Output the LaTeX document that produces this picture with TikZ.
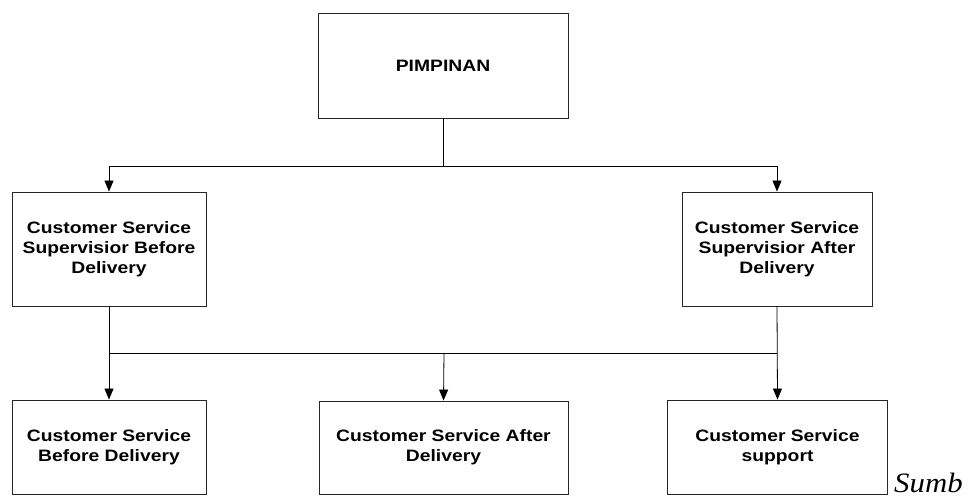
\documentclass[tikz,border=0pt]{standalone}
\usepackage{fontspec}
\setmainfont{Liberation Sans}[FakeStretch=1.17]
\newfontfamily\sumbfont{Liberation Serif Italic}[FakeStretch=1.1]
\usetikzlibrary{arrows.meta}
\begin{document}
\begin{tikzpicture}[x=1pt,y=-1pt,
  orgbox/.style={draw=black!85,line width=0.9pt,inner sep=0pt,align=center,
    font=\fontsize{16.5}{20}\selectfont\bfseries},
  link/.style={draw=black,line width=0.8pt},
  arr/.style={link,-{Triangle[length=11pt,width=9pt]}}]
\useasboundingbox (0,0) rectangle (971,498);
\node[orgbox,minimum width=250,minimum height=105] (pim) at (443,65.5) {PIMPINAN};
\node[orgbox,minimum width=194,minimum height=114] (supb) at (109,249) {Customer Service\\Supervisior Before\\Delivery};
\node[orgbox,minimum width=190,minimum height=114] (supa) at (777,249) {Customer Service\\Supervisior After\\Delivery};
\node[orgbox,minimum width=194,minimum height=94] (csb) at (109,447) {Customer Service\\Before Delivery};
\node[orgbox,minimum width=249,minimum height=93] (csa) at (443.5,447.5) {Customer Service After\\Delivery};
\node[orgbox,minimum width=220,minimum height=94] (css) at (777.5,447) {Customer Service\\support};
\node[anchor=base west,inner sep=0pt,font=\sumbfont\fontsize{28}{30}\selectfont] (sumb) at (894,492) {Sumb};
\coordinate (t0) at (443,166);
\coordinate (tl) at (109,166);
\coordinate (tr) at (777,166);
\coordinate (ml) at (109,353);
\coordinate (mm) at (444,353);
\coordinate (mr) at (777,353);
\draw[link] (pim.south) -- (t0);
\draw[link] (tl) -- (tr);
\draw[arr] (tl) -- (supb.north);
\draw[arr] (tr) -- (supa.north);
\draw[arr] (supb.south) -- (csb.north);
\draw[link] (ml) -- (mr);
\draw[arr] (supa.south) -- (css.north);
\draw[arr] (mm) -- (csa.north);
\end{tikzpicture}
\end{document}
